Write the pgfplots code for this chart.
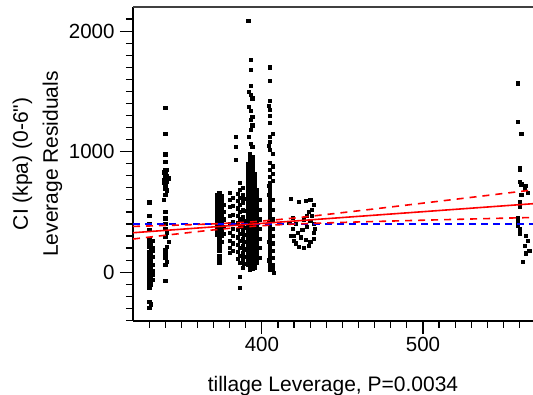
\documentclass[border=0pt]{standalone}
\usepackage{pgfplots}
\pgfplotsset{compat=1.18}
\usepackage{fontspec}
\setmainfont{Liberation Sans}[Ligatures=TeXOff]
\begin{document}
\begin{tikzpicture}
\path[use as bounding box] (-133pt,-74pt) rectangle (400pt,321pt);
\begin{axis}[
  at={(0pt,0pt)}, anchor=south west,
  scale only axis, width=400pt, height=314pt,
  xmin=320, xmax=568.3, ymin=-405, ymax=2200,
  axis x line*=bottom, axis y line*=left,
  axis line style={line width=1.5pt, black},
  clip mode=individual,
  xtick={400,500}, ytick={0,1000,2000},
  minor xtick={330,340,350,360,370,380,390,410,420,430,440,450,460,470,480,490,510,520,530,540,550,560},
  minor ytick={-400,-300,-200,-100,100,200,300,400,500,600,700,800,900,1100,1200,1300,1400,1500,1600,1700,1800,1900,2100},
  tick align=outside,
  major tick length=13pt, minor tick length=7pt,
  every tick/.style={black, line width=1.2pt},
  /pgf/number format/assume math mode=true,
  /pgf/number format/1000 sep={},
  tick label style={font=\fontsize{20.5}{25}\selectfont},
  yticklabel style={xshift=-2pt},
  xlabel={tillage Leverage, P=0.0034},
  ylabel={CI (kpa) (0-6")\\Leverage Residuals},
  every axis x label/.style={at={(axis description cs:0.5,0)}, yshift=-71pt, anchor=base, font=\fontsize{21}{30}\selectfont},
  every axis y label/.style={at={(axis description cs:-0.239,0.5)}, anchor=center, rotate=90, align=center, font=\fontsize{21}{30}\selectfont},
]
% cluster A (x ~ 330)
\addplot[only marks, mark=square*, mark size=1.6pt, mark options={draw=none, fill=black}] coordinates {
(330,580)(330,469)(330,405)(330,350)(330,281)(330,242)(330,210)(330,168)(330,143)(330,120)(330,95)(330,70)(330,45)(330,20)(330,-5)(330,-30)(330,-55)(330,-80)(330,-105)(330,-130)(330,-245)(330,-297)
(331,230)(331,190)(331,150)(331,110)(331,80)(331,55)(331,30)(331,0)(331,-40)(331,-70)(331,-100)(331,-265)
(332,260)(332,180)(332,130)(332,60)(332,10)(332,-20)(332,-60)(332,200)
};
% cluster B (x ~ 340)
\addplot[only marks, mark=square*, mark size=1.6pt, mark options={draw=none, fill=black}] coordinates {
(340,1365)(340,1147)(340,978)(340,917)(340,848)(340,820)(340,790)(340,760)(340,724)(340,696)(340,640)(340,502)(340,447)(340,405)(340,364)(340,295)(340,184)(340,150)(340,118)(340,60)(340,-73)
(339,830)(339,770)(339,740)(339,600)
(341,850)(341,800)(341,750)(341,680)(341,330)(341,210)(341,90)
(342,780)(342,250)
};
% cluster C (x ~ 374)
\addplot[only marks, mark=square*, mark size=1.6pt, mark options={draw=none, fill=black}] coordinates {
(372,640)(372,610)(372,580)(372,550)(372,520)(372,490)(372,460)(372,430)(372,400)(372,370)(372,340)(372,310)
(373.5,657)(373.5,625)(373.5,595)(373.5,565)(373.5,535)(373.5,505)(373.5,475)(373.5,445)(373.5,415)(373.5,385)(373.5,355)(373.5,325)(373.5,295)(373.5,265)(373.5,235)(373.5,205)(373.5,175)(373.5,140)(373.5,110)(373.5,76)
(375,630)(375,600)(375,570)(375,540)(375,510)(375,480)(375,450)(375,420)(375,390)(375,360)(375,330)(375,300)(375,250)
(376.5,560)(376.5,500)(376.5,440)(376.5,380)(376.5,320)
};
% cluster D (x ~ 380-389)
\addplot[only marks, mark=square*, mark size=1.6pt, mark options={draw=none, fill=black}] coordinates {
(384,1124)(384,1041)(384,931)
(386,740)(386,682)(386,620)(386,560)(386,500)(386,440)(386,380)(386,320)(386,260)(386,200)(386,140)(386,76)(386,-37)(386,-131)
(385,650)(385,590)(385,530)(385,470)(385,410)(385,350)(385,290)(385,230)(385,170)(385,110)
(388,700)(388,640)(388,580)(388,520)(388,460)(388,400)(388,340)(388,280)(388,220)(388,160)(388,100)(388,40)
(380,657)(380,600)(380,540)(380,470)(380,400)(380,330)(380,260)(380,200)(380,160)
(382,620)(382,550)(382,480)(382,420)(382,360)(382,300)(382,240)(382,180)
(389,610)(389,510)(389,430)(389,370)(389,310)(389,250)(389,190)(389,130)(389,70)
};
% cluster E (x ~ 391-398), dense
\addplot[only marks, mark=square*, mark size=1.6pt, mark options={draw=none, fill=black}] coordinates {
(391.5,2085)(393,1766)(393,1683)(393,1545)(392,1498)(393,1470)(394,1443)(392,1373)(393,1340)(394,1290)(393,1263)(394,1220)(393,1180)(392,1124)(393,1069)(394,1040)
(391,60)(391,90)(391,120)(391,150)(391,180)(391,210)(391,240)(391,270)(391,300)(391,330)(391,360)(391,390)(391,420)(391,450)(391,480)(391,510)(391,540)(391,570)(391,600)(391,630)(391,660)(391,690)(391,720)(391,750)(391,780)(391,810)(391,840)(391,870)(391,900)
(392.5,20)(392.5,50)(392.5,80)(392.5,110)(392.5,140)(392.5,170)(392.5,200)(392.5,230)(392.5,260)(392.5,290)(392.5,320)(392.5,350)(392.5,380)(392.5,410)(392.5,440)(392.5,470)(392.5,500)(392.5,530)(392.5,560)(392.5,590)(392.5,620)(392.5,650)(392.5,680)(392.5,710)(392.5,740)(392.5,770)(392.5,800)(392.5,830)(392.5,860)(392.5,890)(392.5,920)(392.5,950)(392.5,980)
(394,30)(394,60)(394,90)(394,120)(394,150)(394,180)(394,210)(394,240)(394,270)(394,300)(394,330)(394,360)(394,390)(394,420)(394,450)(394,480)(394,510)(394,540)(394,570)(394,600)(394,630)(394,660)(394,690)(394,720)(394,750)(394,780)(394,810)(394,840)(394,870)(394,900)(394,930)(394,960)
(395.5,40)(395.5,70)(395.5,100)(395.5,130)(395.5,160)(395.5,190)(395.5,220)(395.5,250)(395.5,280)(395.5,310)(395.5,340)(395.5,370)(395.5,400)(395.5,430)(395.5,460)(395.5,490)(395.5,520)(395.5,550)(395.5,580)(395.5,610)(395.5,640)(395.5,670)(395.5,700)(395.5,730)(395.5,760)(395.5,790)(395.5,820)
(397,80)(397,110)(397,140)(397,170)(397,200)(397,230)(397,260)(397,290)(397,320)(397,350)(397,380)(397,410)(397,440)(397,470)(397,500)(397,530)(397,560)(397,590)(397,620)(397,650)(397,680)
(398.5,120)(398.5,200)(398.5,280)(398.5,360)(398.5,440)(398.5,520)(398.5,600)
};
% cluster F (x ~ 405)
\addplot[only marks, mark=square*, mark size=1.6pt, mark options={draw=none, fill=black}] coordinates {
(405,1700)(405,1589)(405,1423)(405,1346)(405,1300)(405,1238)(405,1122)(405,1080)(405,1014)(405,906)(405,850)(405,791)
(405,745)(405,720)(405,695)(405,670)(405,645)(405,620)(405,595)(405,570)(405,545)(405,520)(405,495)(405,470)(405,445)(405,420)(405,395)(405,370)(405,345)(405,320)(405,295)(405,270)(405,245)(405,220)(405,195)(405,170)(405,145)(405,120)(405,95)(405,70)(405,45)(405,20)
(406.5,1150)(406.5,980)(406.5,880)(406.5,820)(406.5,760)(406.5,600)(406.5,520)(406.5,440)(406.5,360)(406.5,300)(406.5,240)(406.5,180)(406.5,120)(406.5,60)(406.5,30)
(407.5,-7)
(404,1380)(404,1050)(404,720)(404,640)(404,420)(404,250)(404,100)
};
% cluster G (x ~ 417-432)
\addplot[only marks, mark=square*, mark size=1.6pt, mark options={draw=none, fill=black}] coordinates {
(418,610)(423,582)(427,590)(430,600)(432,560)(431,520)(429,500)(428,470)(426,440)(430,430)(432,400)(428,380)(425,350)(422,330)(420,300)(424,290)(427,270)(430,250)(432,280)(421,240)(423,210)(426,200)(429,220)(419,360)(417,410)(419,450)(421,400)(418,300)(420,260)(432,330)(431,470)(433,360)
};
% cluster H (x ~ 560)
\addplot[only marks, mark=square*, mark size=1.6pt, mark options={draw=none, fill=black}] coordinates {
(559,1567)(559,1249)(561,1146)(560,862)(560,850)(560,751)(561,730)(564,720)(563,690)(565,660)(561,640)(560,585)(560,565)(560,543)(559,449)(559,420)(559,390)(560,360)(560,324)(564,300)(565,260)(563,220)(566,180)(564,158)(562,87)
};
% mean line
\addplot[blue, line width=2pt, dash pattern=on 7pt off 5pt] coordinates {(320,400)(570,400)};
% fit line
\addplot[red, line width=1.6pt] coordinates {(320,327.25)(570,569.75)};
% confidence curves
\addplot[red, line width=1.6pt, dash pattern=on 7pt off 6pt] coordinates {
(320,379.6)(330,383.3)(340,387.2)(350,391.3)(360,395.7)(370,400.8)(380,406.9)(390,414.5)(395,419)(400,424.2)(410,436.0)(420,449.3)(430,463.6)(440,478.6)(450,493.9)(460,509.4)(470,525.1)(480,540.9)(500,572.7)(520,604.7)(540,636.8)(560,669.0)(570,685.1)};
\addplot[red, line width=1.6pt, dash pattern=on 7pt off 6pt] coordinates {
(320,275.0)(330,290.7)(340,306.2)(350,321.5)(360,336.5)(370,350.8)(380,364.1)(390,375.9)(395,381)(400,385.6)(410,393.2)(420,399.3)(430,404.4)(440,408.8)(450,412.9)(460,416.8)(470,420.5)(480,424.1)(500,431.1)(520,437.9)(540,444.6)(560,451.2)(570,454.5)};
\draw[black!75, line width=2.2pt] (rel axis cs:0,1) -- (rel axis cs:1,1);
\end{axis}
\end{tikzpicture}
\end{document}
